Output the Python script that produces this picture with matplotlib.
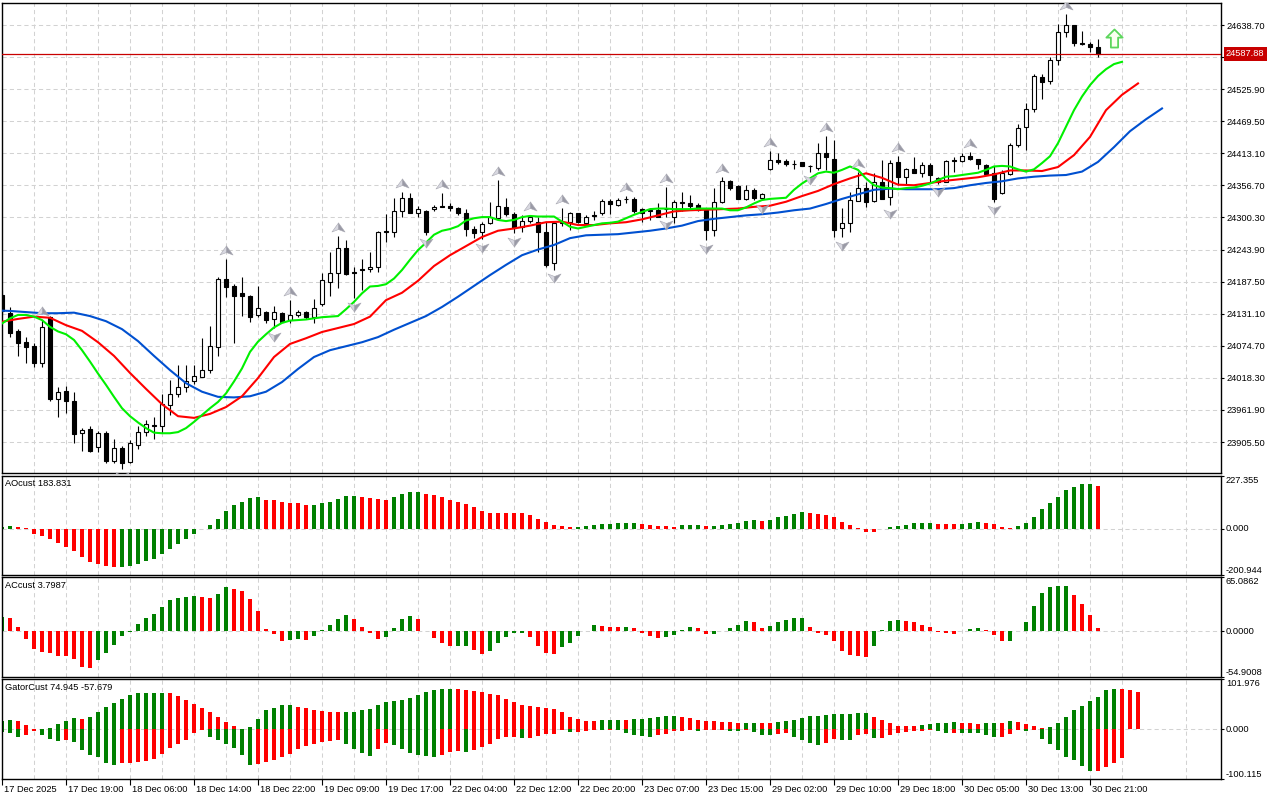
import numpy as np
import matplotlib.pyplot as plt
from matplotlib.path import Path
from matplotlib.ticker import FixedLocator
from matplotlib.transforms import ScaledTranslation, blended_transform_factory

plt.rcParams['font.family'] = ['Liberation Sans', 'DejaVu Sans']

# ---- hourly candles (bar 0 = 17 Dec 2025) ----
opens = [24164, 24132, 24100, 24081, 24074, 24045, 24126, 23982, 23995, 23977,
         23921, 23928, 23897, 23921, 23873, 23895, 23871, 23900, 23924, 23936,
         23934, 23971, 23990, 24003, 24013, 24019, 24033, 24073, 24192, 24180,
         24167, 24162, 24128, 24135, 24121, 24132, 24120, 24129, 24134, 24126,
         24148, 24187, 24202, 24246, 24205, 24210, 24209, 24214, 24277, 24275,
         24311, 24334, 24309, 24312, 24315, 24321, 24321, 24317, 24309, 24280,
         24274, 24290, 24299, 24318, 24306, 24283, 24294, 24293, 24275, 24220,
         24291, 24293, 24308, 24290, 24304, 24308, 24329, 24322, 24333, 24333,
         24315, 24313, 24314, 24316, 24302, 24327, 24325, 24322, 24314, 24278,
         24328, 24364, 24356, 24333, 24349, 24334, 24385, 24401, 24400, 24395,
         24397, 24391, 24387, 24413, 24404, 24281, 24290, 24330, 24352, 24329,
         24363, 24337, 24397, 24371, 24385, 24379, 24393, 24369, 24363, 24401,
         24400, 24408, 24403, 24393, 24378, 24343, 24377, 24427, 24460, 24491,
         24547, 24541, 24578, 24626, 24639, 24607, 24605, 24600]
highs = [24173, 24143, 24104, 24091, 24080, 24120, 24127, 24003, 24004, 23994,
         23931, 23934, 23925, 23925, 23910, 23899, 23909, 23934, 23944, 23950,
         23990, 24015, 24041, 24041, 24041, 24089, 24110, 24196, 24227, 24183,
         24196, 24164, 24180, 24136, 24145, 24135, 24155, 24138, 24136, 24157,
         24202, 24239, 24267, 24261, 24213, 24227, 24240, 24277, 24306, 24334,
         24345, 24343, 24321, 24314, 24322, 24343, 24326, 24319, 24315, 24285,
         24293, 24328, 24366, 24334, 24310, 24305, 24305, 24301, 24293, 24293,
         24317, 24310, 24309, 24305, 24312, 24332, 24332, 24335, 24338, 24337,
         24317, 24317, 24326, 24354, 24331, 24346, 24340, 24325, 24317, 24352,
         24372, 24367, 24357, 24357, 24352, 24343, 24418, 24413, 24404, 24401,
         24398, 24393, 24432, 24444, 24437, 24317, 24346, 24381, 24363, 24378,
         24401, 24401, 24408, 24387, 24407, 24397, 24396, 24372, 24401, 24407,
         24414, 24416, 24404, 24394, 24390, 24384, 24432, 24465, 24501, 24553,
         24553, 24583, 24641, 24658, 24639, 24629, 24609, 24614]
lows = [24129, 24090, 24056, 24044, 24038, 24037, 23978, 23950, 23956, 23904,
        23889, 23888, 23888, 23869, 23869, 23859, 23869, 23893, 23916, 23911,
        23922, 23953, 23984, 23994, 24008, 24019, 24027, 24057, 24160, 24080,
        24127, 24117, 24125, 24115, 24106, 24116, 24114, 24126, 24121, 24115,
        24144, 24162, 24176, 24199, 24158, 24172, 24205, 24205, 24258, 24266,
        24302, 24308, 24302, 24270, 24311, 24318, 24311, 24305, 24268, 24264,
        24262, 24289, 24297, 24303, 24273, 24275, 24291, 24240, 24214, 24208,
        24285, 24278, 24290, 24285, 24296, 24305, 24306, 24321, 24326, 24309,
        24293, 24296, 24301, 24302, 24291, 24311, 24315, 24312, 24260, 24268,
        24326, 24349, 24332, 24331, 24331, 24331, 24384, 24394, 24391, 24385,
        24390, 24381, 24384, 24384, 24266, 24266, 24275, 24329, 24318, 24328,
        24332, 24322, 24357, 24357, 24378, 24372, 24363, 24360, 24362, 24381,
        24398, 24401, 24385, 24375, 24328, 24342, 24375, 24425, 24419, 24486,
        24509, 24535, 24568, 24617, 24602, 24604, 24591, 24583]
closes = [24136, 24097, 24080, 24073, 24044, 24107, 23981, 23994, 23977, 23919,
          23927, 23890, 23922, 23873, 23895, 23869, 23903, 23924, 23937, 23934,
          23972, 23990, 24003, 24013, 24021, 24033, 24074, 24192, 24178, 24163,
          24162, 24126, 24141, 24120, 24134, 24117, 24129, 24135, 24125, 24141,
          24190, 24202, 24246, 24201, 24203, 24208, 24214, 24275, 24275, 24312,
          24334, 24309, 24315, 24275, 24318, 24319, 24317, 24308, 24280, 24273,
          24288, 24301, 24321, 24306, 24281, 24294, 24301, 24275, 24217, 24290,
          24293, 24308, 24293, 24302, 24303, 24329, 24324, 24331, 24332, 24312,
          24309, 24312, 24302, 24315, 24328, 24326, 24321, 24314, 24278, 24328,
          24364, 24353, 24333, 24349, 24335, 24342, 24401, 24397, 24394, 24394,
          24391, 24390, 24413, 24406, 24278, 24290, 24331, 24352, 24328, 24363,
          24333, 24396, 24371, 24385, 24379, 24393, 24375, 24362, 24399, 24400,
          24408, 24403, 24394, 24377, 24333, 24379, 24428, 24458, 24491, 24549,
          24539, 24578, 24626, 24639, 24607, 24606, 24600, 24587.88]
last_price = 24587.88

# ---- Alligator (already shifted forward) ----
lips = [24114, 24123, 24129, 24129, 24126, 24120, 24108, 24100, 24095, 24085,
        24067, 24047, 24026, 24006, 23985, 23965, 23951, 23940, 23930, 23922,
        23921, 23921, 23923, 23930, 23941, 23953, 23965, 23976, 23991, 24012,
        24035, 24064, 24082, 24095, 24107, 24115, 24119, 24120, 24121, 24123,
        24125, 24126, 24127, 24139, 24152, 24167, 24179, 24180, 24183, 24193,
        24208, 24226, 24243, 24256, 24270, 24277, 24280, 24285, 24295, 24299,
        24301, 24301, 24296, 24294, 24296, 24301, 24303, 24302, 24302, 24302,
        24293, 24284, 24281, 24284, 24287, 24290, 24291, 24293, 24299, 24305,
        24310, 24315, 24316, 24316, 24315, 24315, 24315, 24316, 24316, 24316,
        24316, 24313, 24313, 24318, 24325, 24331, 24333, 24334, 24335, 24349,
        24360, 24369, 24378, 24381, 24379, 24384, 24390, 24384, 24369, 24357,
        24353, 24352, 24350, 24352, 24353, 24356, 24360, 24366, 24372, 24373,
        24375, 24377, 24379, 24384, 24390, 24391, 24390, 24385, 24381, 24385,
        24396, 24408, 24431, 24460, 24489, 24513, 24533, 24549, 24561, 24570, 24574]
teeth_bars = np.arange(0, 143, 2)
teeth = [24117, 24122, 24126, 24124, 24111, 24101, 24081, 24057, 24027, 23999,
         23972, 23951, 23948, 23955, 23967, 23986, 24018, 24055, 24078, 24088,
         24099, 24106, 24113, 24126, 24155, 24168, 24189, 24215, 24234, 24250,
         24266, 24277, 24281, 24286, 24292, 24293, 24287, 24287, 24290, 24292,
         24297, 24304, 24311, 24313, 24314, 24315, 24316, 24319, 24321, 24328,
         24338, 24347, 24359, 24369, 24378, 24370, 24358, 24357, 24361, 24365,
         24368, 24371, 24376, 24383, 24383, 24382, 24389, 24410, 24442, 24489,
         24516, 24536]
jaw_bars = np.arange(-1, 146, 2)
jaw = [24137, 24136, 24134, 24132, 24132, 24133, 24127, 24118, 24104, 24083, 24057,
       24032, 24009, 23994, 23985, 23984, 23986, 23994, 24011, 24034, 24055,
       24067, 24074, 24081, 24090, 24103, 24115, 24127, 24143, 24161, 24180,
       24199, 24217, 24234, 24244, 24252, 24264, 24269, 24270, 24271, 24274,
       24277, 24281, 24286, 24294, 24298, 24301, 24304, 24306, 24309, 24313,
       24316, 24324, 24333, 24341, 24349, 24351, 24350, 24350, 24350, 24352,
       24357, 24361, 24364, 24369, 24372, 24374, 24375, 24381, 24398, 24424,
       24452, 24473, 24492]

# ---- fractals ----
frac_up = [5, 28, 36, 42, 50, 55, 62, 66, 70, 78, 83, 90, 96, 103, 107, 112, 121, 133]
frac_dn = [15, 34, 44, 53, 60, 64, 69, 83, 88, 95, 101, 105, 111, 117, 124]
signal_bar, signal_price = 139, 24616

# ---- oscillators ----
ao = [5, 11.7, 7.3, 1, -21.9, -32, -43.7, -61.2, -78.7, -97.6,
      -122.4, -144.2, -153, -160.3, -168, -167.5, -160.3, -153, -141.3, -131.1,
      -109.3, -87.4, -65.6, -43.7, -21.9, -1, 16, 40.8, 77.2, 100.5,
      116.6, 132.6, 138.4, 125.3, 123.8, 116.6, 112.2, 110.7,
      103.1, 103.5, 109.5, 116.1, 126.9, 138.9, 140.7, 137.5, 132.6, 126.4,
      125.3, 135.8, 147.8, 156.3, 159.2, 150.5, 143.2, 134.5, 124, 115.5,
      107.5, 92.6, 75.9, 68.6, 68.4, 68.3, 67.9, 66, 59.6, 43.1,
      26.4, 14.5, 11.8, 6.2, 7, 10.6, 17.5, 17.6, 19.6, 22.4,
      25.5, 25.7, 20.6, 16.2, 12.3, 10.7, 8.7, 13.3, 17, 17.2,
      10.2, 10.6, 13.8, 18.5, 22.2, 31.2, 35.6, 32.4, 38.9, 48.2,
      55.8, 63.1, 71.7, 65.4, 61.8, 60.3, 50.5, 30.1, 14.5, 2.1,
      -13.7, -14.4, -0.8, 8.4, 12.4, 17.3, 22.6, 23.9, 25.6, 21.2,
      21, 19.4, 21.4, 24.5, 27.1, 25.5, 18.2,
      7, 4, 13, 25, 52, 83, 109, 137, 166, 181, 191, 192.5, 183.831]
ac = [16.5, 16, 4.8, -8.9, -21.4, -25, -26.3, -29.9, -30.2, -33.5,
      -42.8, -44.4, -35.1, -26.3, -17, -5.7, -0.8, 8.5, 16.2, 20.6,
      29.1, 37.6, 40, 41.6, 42.8, 41.2, 40, 44.8, 53.3, 50.9,
      47.7, 38.8, 24.6, 3.2, -3.2, -11.7, -10.1, -9.9,
      -10.2, -5.7, 1.7, 7.5, 15.1, 19.9, 14.3, 5.5, -2.7, -8.8,
      -7.2, 4.3, 14.2, 18, 14.3, 0.6, -8.2, -14.2, -18.3, -18,
      -17.4, -22.2, -27.2, -23.4, -14.2, -6.5, -1.9, -1.8, -6.4, -17.9,
      -26.2, -27.4, -19.3, -14.2, -6.2, 0.6, 6.9, 5.8, 5.1, 4.9,
      5, 3.5, -2.2, -5.9, -7.8, -6.4, -5, 1.1, 4.6, 3.8,
      -3.1, -3.0, 0, 4.4, 7.1, 11.9, 11.3, 4.4, 6.8, 10.9,
      13.6, 15.4, 16.2, 4.6, -1.8, -4.2, -11.4, -23.5, -28.9, -29.4,
      -30.4, -18.1, 1.7, 12.1, 14, 12.7, 10.6, 7, 5.2, -0.9,
      -1.9, -2.8, -0.3, 3, 4.4, 1.9, -5.1,
      -11.7, -11.5, 0.5, 11.3, 30.3, 46, 52.5, 54.5, 54.6, 43.6, 32.7, 19.4, 3.7987]
gator_up = [17, 19, 17, 8.2, 1.5, 0.8, 2, 10.2, 17, 22.4,
            22, 25.2, 35.4, 44.9, 53, 61.2, 69.4, 72.8, 74.2, 74.3,
            74.4, 74.2, 67.3, 59.8, 51, 43.5, 36, 25.2, 15.6, 6.8,
            1, 5.4, 20.4, 38.8, 44.2, 49.6, 49.8, 46.2,
            43.5, 39, 37, 35.5, 35, 35.3, 36, 38.5, 42, 50,
            56, 58.5, 60, 64, 69, 75, 79.5, 81.5, 82, 81,
            79.5, 78, 76.5, 72.5, 69, 62, 55.5, 49.5, 47, 45,
            44, 40.5, 35, 26, 20.5, 18, 17.5, 18.5, 19.5, 20,
            19.5, 20.5, 21.5, 23.5, 25, 26.5, 27.5, 26, 23, 19.5,
            18, 16.5, 15.5, 14.5, 13.5, 13.6, 14, 13.8, 13.5, 15.5,
            17, 20, 23.5, 26.5, 27, 29, 30.5, 31, 32, 32.5,
            33, 25, 20, 13, 7.5, 7.2, 7, 9, 11, 13,
            14, 14.5, 13.5, 12.5, 12, 12.5, 13.5,
            12.9, 17.7, 15.6, 10.9, 7.5, 2.7, 5.4, 13.6, 24.5, 39.4,
            46.9, 57.1, 66.6, 78.9, 82.3, 82.2, 78.9, 74.945]
gator_dn = [-6, -7, -15, -12.2, -3, -10.9, -18.4, -22.4, -20.4, -25.2,
            -40.8, -52.4, -55.8, -68, -72.1, -68, -67.5, -66, -63.2, -59.2,
            -49, -37.4, -29.2, -20.4, -6.8, -0.5, -15, -20.4, -29.2, -37.4,
            -52.4, -72.8, -70, -66, -62.6, -55.8, -49.6, -39.4,
            -33, -29.5, -26, -23.5, -21, -29.5, -39, -47.5, -53, -39.5,
            -28, -31.5, -40, -47.5, -52, -54, -55, -52.5, -46, -43,
            -45, -41, -35, -29.5, -19, -15, -14.5, -17.5, -17, -13,
            -10, -9.5, -1, -6, -5.5, -3, -0.5, -1.5, -1, -2,
            -7, -10.5, -13, -14.5, -12, -8.5, -4, -3, -2, -2.5,
            -2, -1.5, -1, -2.5, -3, -0.5, -6, -11, -12, -9.5,
            -7, -16, -22, -26.5, -31, -28, -20, -20.5, -21, -10.5,
            -9, -17, -16.5, -12, -8, -5.5, -4, -3, -1, -3,
            -7, -6.5, -7, -7.5, -8, -11, -15,
            -14.3, -8.2, -2, -4, -1, -19.7, -28.6, -42.2, -55.8, -61.2,
            -73.4, -84.3, -83.5, -76.2, -67.3, -57.679]

price_ticks = [24638.70, 24582.30, 24525.90, 24469.50, 24413.10, 24356.70, 24300.30,
               24243.90, 24187.50, 24131.10, 24074.70, 24018.30, 23961.90, 23905.50]
time_bars = np.arange(0, 137, 8)
time_labels = ['17 Dec 2025', '17 Dec 19:00', '18 Dec 06:00', '18 Dec 14:00',
               '18 Dec 22:00', '19 Dec 09:00', '19 Dec 17:00', '22 Dec 04:00',
               '22 Dec 12:00', '22 Dec 20:00', '23 Dec 07:00', '23 Dec 15:00',
               '29 Dec 02:00', '29 Dec 10:00', '29 Dec 18:00', '30 Dec 05:00',
               '30 Dec 13:00', '30 Dec 21:00']

GREEN, RED = '#008000', '#FF0000'
GRID = '#d2d2d2'
FS = 6.7

W, H = 1280, 800
fig = plt.figure(figsize=(W / 100, H / 100), dpi=100)


def panel(top, bottom):
    return fig.add_axes([2 / W, 1 - bottom / H, 1219 / W, (bottom - top) / H])


ax = panel(3, 473)
ao_ax = panel(476, 575)
ac_ax = panel(577, 677)
gt_ax = panel(679, 779)

for a in (ax, ao_ax, ac_ax, gt_ax):
    a.set_xlim(0, 1219 / 8)
    a.xaxis.set_major_locator(FixedLocator(time_bars))
    a.xaxis.set_minor_locator(FixedLocator(np.arange(4, 153, 8)))
    a.grid(True, axis='x', which='both', color=GRID, lw=0.75, ls=(0, (4, 3)))
    a.tick_params(axis='x', which='both', length=0, labelbottom=False)
    a.set_axisbelow(True)
    for s in a.spines.values():
        s.set_linewidth(1)
        s.set_color('black')

# ---- main price panel ----
ax.set_ylim(23851.1, 24677.4)
ax.yaxis.tick_right()
ax.set_yticks(price_ticks)
# the level just under the current price is hidden by the price tag
ax.set_yticklabels(['' if abs(v - last_price) < 10 else f'{v:.2f}' for v in price_ticks])
ax.tick_params(axis='y', direction='out', length=2.5, width=0.8, pad=1.5, labelsize=FS)
ax.grid(True, axis='y', color=GRID, lw=0.75, ls=(0, (4, 3)))

bars = np.arange(len(closes))
o = np.array(opens, dtype=float)
c = np.array(closes, dtype=float)
ax.vlines(bars, lows, highs, color='black', lw=0.8, zorder=2)
ax.bar(bars, np.abs(c - o), bottom=np.minimum(o, c), width=0.5,
       color=np.where(c >= o, 'white', 'black'), edgecolor='black', lw=0.8, zorder=3)

ax.plot(jaw_bars, jaw, color='#0050D0', lw=1.5, zorder=4)
ax.plot(teeth_bars, teeth, color='#FF0000', lw=1.5, zorder=4)
ax.plot(np.arange(len(lips)), lips, color='#00F000', lw=1.5, zorder=4)

ax.axhline(last_price, color='#C80000', lw=0.9, zorder=4)
ax.annotate(f'{last_price:.2f}', xy=(1, last_price), xycoords=('axes fraction', 'data'),
            xytext=(5, 0), textcoords='offset pixels', ha='left', va='center',
            fontsize=FS, color='white', annotation_clip=False, zorder=10,
            bbox=dict(boxstyle='square,pad=0.25', fc='#C80000', ec='none'))

# fractal arrows: light left half, dark right half
up_l = Path([(0, 0.45), (-0.65, -0.45), (0, -0.2), (0, 0.45)], closed=True)
up_r = Path([(0, 0.45), (0.65, -0.45), (0, -0.2), (0, 0.45)], closed=True)
dn_l = Path([(0, -0.45), (-0.65, 0.45), (0, 0.2), (0, -0.45)], closed=True)
dn_r = Path([(0, -0.45), (0.65, 0.45), (0, 0.2), (0, -0.45)], closed=True)
up_tr = ax.transData + ScaledTranslation(0, 0.09, fig.dpi_scale_trans)
dn_tr = ax.transData + ScaledTranslation(0, -0.085, fig.dpi_scale_trans)
hi = np.array(highs)
lo = np.array(lows)
for m, col in ((up_l, '#d8d8e0'), (up_r, '#9a9aa6')):
    ax.plot(frac_up, hi[frac_up], ls='none', marker=m, ms=9.4, mfc=col,
            mec='#a8a8b2', mew=0.4, transform=up_tr, zorder=6)
for m, col in ((dn_l, '#d8d8e0'), (dn_r, '#9a9aa6')):
    ax.plot(frac_dn, lo[frac_dn], ls='none', marker=m, ms=9.4, mfc=col,
            mec='#a8a8b2', mew=0.4, transform=dn_tr, zorder=6)

arrow = Path([(-0.2, -0.5), (0.2, -0.5), (0.2, 0.05), (0.45, 0.05), (0, 0.5),
              (-0.45, 0.05), (-0.2, 0.05), (-0.2, -0.5)], closed=True)
ax.plot([signal_bar], [signal_price], ls='none', marker=arrow, ms=13, mfc='#fbfff0',
        mec='#5cd65c', mew=1.3, zorder=6, clip_on=False)


# ---- oscillator panels ----
def colours(vals, use_abs=False):
    v = np.abs(vals) if use_abs else np.asarray(vals)
    out = [GREEN]
    for k in range(1, len(v)):
        out.append(GREEN if v[k] > v[k - 1] else RED)
    return out


def side_labels(a, lo_v, hi_v, fmt):
    a.set_ylim(lo_v, hi_v)
    a.yaxis.tick_right()
    a.set_yticks([lo_v, 0, hi_v])
    a.tick_params(axis='y', direction='out', length=2.5, width=0.8, labelright=False)
    a.axhline(0, color=GRID, lw=0.75, ls=(0, (4, 3)), zorder=0)
    tr = blended_transform_factory(a.transAxes, a.transData)
    for val, va in ((hi_v, 'top'), (0, 'center'), (lo_v, 'bottom')):
        a.text(1.004, val, fmt.format(val), transform=tr, ha='left', va=va, fontsize=FS)


side_labels(ao_ax, -200.944, 227.355, '{:.3f}')
ao_ax.bar(np.arange(len(ao)), ao, width=0.55, color=colours(ao), lw=0)
ao_ax.text(3 / 1219, 0.92, f'AOcust {ao[-1]:.3f}', transform=ao_ax.transAxes,
           ha='left', va='center', fontsize=FS)

side_labels(ac_ax, -54.9008, 65.0862, '{:.4f}')
ac_ax.bar(np.arange(len(ac)), ac, width=0.55, color=colours(ac), lw=0)
ac_ax.text(3 / 1219, 0.92, f'ACcust {ac[-1]:.4f}', transform=ac_ax.transAxes,
           ha='left', va='center', fontsize=FS)

side_labels(gt_ax, -100.115, 101.976, '{:.3f}')
gt_ax.bar(np.arange(len(gator_up)), gator_up, width=0.55, color=colours(gator_up), lw=0)
gt_ax.bar(np.arange(len(gator_dn)), gator_dn, width=0.55,
          color=colours(gator_dn, use_abs=True), lw=0)
gt_ax.text(3 / 1219, 0.92, f'GatorCust {gator_up[-1]:.3f} {gator_dn[-1]:.3f}',
           transform=gt_ax.transAxes, ha='left', va='center', fontsize=FS)

# time axis
gt_ax.tick_params(axis='x', which='major', length=4.5, width=0.8, direction='out', bottom=True)
for b, lbl in zip(time_bars, time_labels):
    gt_ax.annotate(lbl, xy=(b, 0), xycoords=('data', 'axes fraction'), xytext=(2, -10),
                   textcoords='offset pixels', ha='left', va='center', fontsize=FS,
                   annotation_clip=False)

fig.savefig('out.png', dpi=100)
